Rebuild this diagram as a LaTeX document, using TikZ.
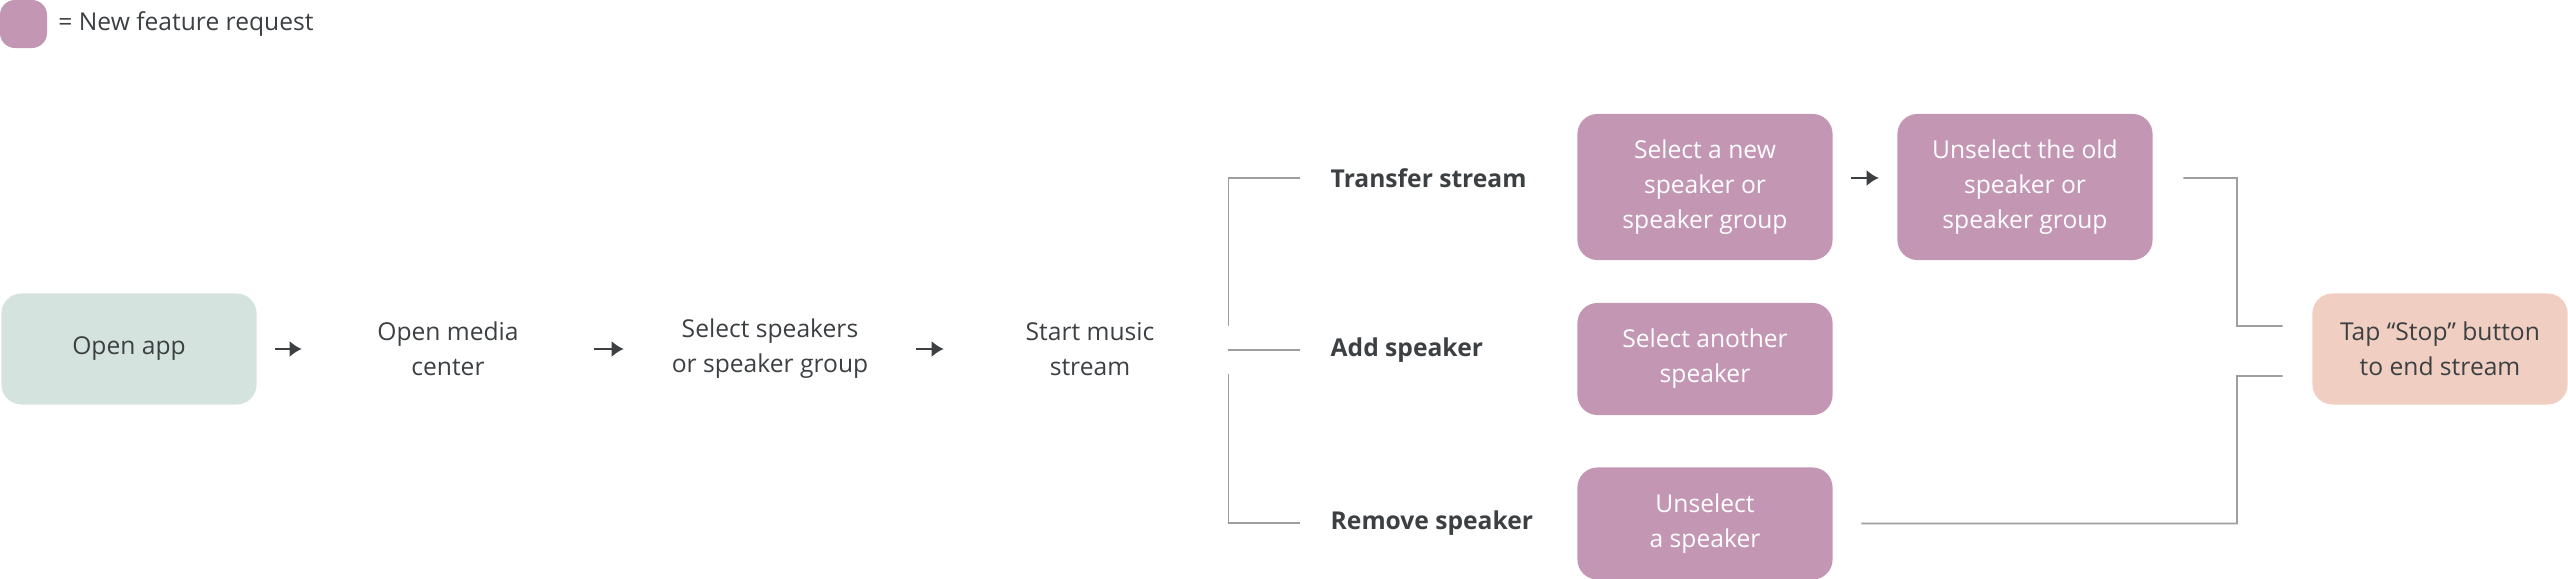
\documentclass[tikz,border=0pt]{standalone}
\usepackage{fontspec}
\setmainfont{Open Sans}
\usetikzlibrary{arrows.meta,positioning}
\definecolor{newreq}{HTML}{C397B3}
\definecolor{startc}{HTML}{D5E3DE}
\definecolor{endc}{HTML}{F0CFC2}
\definecolor{txt}{HTML}{3C4043}
\definecolor{wirec}{HTML}{9E9E9E}
\tikzset{
  stage/.style={rounded corners=2mm, minimum width=2.55cm, minimum height=1.11cm, align=center, font=\fontsize{7}{10}\selectfont, text=txt, inner sep=0pt},
  feature/.style={stage, fill=newreq, text=white},
  branch/.style={font=\bfseries\fontsize{7}{10}\selectfont, text=txt, anchor=west, inner sep=0pt},
  go/.style={-{Latex[length=1.2mm,width=1.6mm]}, line width=0.6pt, txt, shorten <=0.18cm, shorten >=0.18cm},
  wire/.style={wirec, line width=0.5pt}
}
\begin{document}
\begin{tikzpicture}[x=0.01cm,y=-0.01cm]
  \useasboundingbox (0,0) rectangle (2568,579);
  % legend
  \node[fill=newreq, rounded corners=1.5mm, minimum width=0.47cm, minimum height=0.48cm, inner sep=0pt] (key) at (23.5,24) {};
  \node[right=0.1cm of key, font=\fontsize{7}{10}\selectfont, text=txt, inner sep=0pt] (keytext) {= New feature request};
  % main flow
  \node[stage, fill=startc] (open) at (129,349) {Open app};
  \node[stage] (media) at (448,349) {Open media\\center};
  \node[stage] (select) at (770,349) {Select speakers\\or speaker group};
  \node[stage] (start) at (1090,349) {Start music\\stream};
  \draw[go] (open) -- (media);
  \draw[go] (media) -- (select);
  \draw[go] (select) -- (start);
  % branches
  \node[branch] (transfer) at (1330,178) {Transfer stream};
  \node[branch] (add) at (1330,350) {Add speaker};
  \node[branch] (remove) at (1330,523) {Remove speaker};
  \node[feature, minimum height=1.46cm] (newspk) at (1705,187) {Select a new\\speaker or\\speaker group};
  \node[feature, minimum height=1.46cm] (oldspk) at (2025,187) {Unselect the old\\speaker or\\speaker group};
  \node[feature, minimum height=1.12cm] (another) at (1705,359) {Select another\\speaker};
  \node[feature, minimum height=1.12cm] (unsel) at (1705,523.5) {Unselect\\a speaker};
  \node[stage, fill=endc] (stop) at (2440,349) {Tap “Stop” button\\to end stream};
  \draw[go] (newspk.east |- transfer) -- (oldspk.west |- transfer);
  % brackets
  \draw[wire] ([xshift=0.1cm,yshift=0.24cm]start.east) -| ++(0.32,0) |- ([xshift=-0.3cm]transfer.west);
  \draw[wire] ([xshift=0.1cm]start.east |- add) -- ([xshift=-0.3cm]add.west);
  \draw[wire] ([xshift=0.1cm,yshift=-0.26cm]start.east) -| ++(0.32,0) |- ([xshift=-0.3cm]remove.west);
  \coordinate (join) at (2237,0);
  \draw[wire] ([xshift=0.3cm]oldspk.east |- transfer) -| (join |- 0,326) -- ([xshift=-0.29cm,yshift=0.23cm]stop.west);
  \draw[wire] ([xshift=0.28cm]unsel.east) -| (join |- 0,376) -- ([xshift=-0.29cm,yshift=-0.27cm]stop.west);
\end{tikzpicture}
\end{document}
